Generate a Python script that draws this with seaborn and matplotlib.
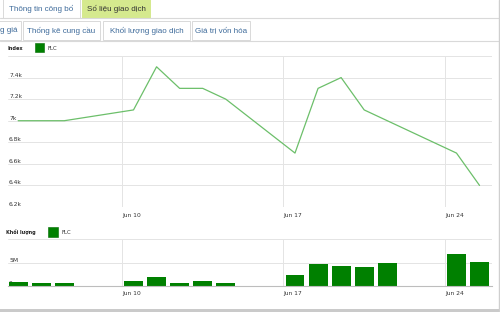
import matplotlib
matplotlib.use('Agg')
import numpy as np
import pandas as pd
import seaborn as sns
import matplotlib.pyplot as plt
import matplotlib.dates as mdates
from matplotlib.patches import Rectangle

# ---------------- data ----------------
dates = ['2013-06-05', '2013-06-06', '2013-06-07', '2013-06-10', '2013-06-11',
         '2013-06-12', '2013-06-13', '2013-06-14', '2013-06-17', '2013-06-18',
         '2013-06-19', '2013-06-20', '2013-06-21', '2013-06-24', '2013-06-25']
price = [7000, 7000, 7000, 7100, 7500, 7300, 7300, 7200, 6700, 7300,
         7400, 7100, 7000, 6700, 6400]
volume_m = [0.75, 0.6, 0.55, 1.0, 1.9, 0.7, 1.0, 0.6, 2.35, 4.7,
            4.2, 3.95, 4.9, 6.9, 5.05]
series_name = 'FLC'
tick_dates = ['2013-06-10', '2013-06-17', '2013-06-24']
tick_labels = ['Jun 10', 'Jun 17', 'Jun 24']
price_ticks = [6200, 6400, 6600, 6800, 7000, 7200, 7400, 7600]
price_tick_labels = ['6.2k', '6.4k', '6.6k', '6.8k', '7k', '7.2k', '7.4k', '']
vol_ticks = [0, 5e6, 10e6]
vol_tick_labels = ['0', '5M', '']
price_title = 'Index'
vol_title = 'Khối lượng'
tabs_row1 = ['Thông tin công bố', 'Số liệu giao dịch']
tabs_row2 = ['g giá', 'Thống kê cung cầu', 'Khối lượng giao dịch', 'Giá trị vốn hóa']

# ---------------- setup ----------------
sns.set_theme(style='white')
plt.rcParams['font.family'] = ['DejaVu Sans']

x = mdates.date2num(pd.to_datetime(dates)) + 0.5
df = pd.DataFrame({'x': x, 'price': price, 'volume': np.array(volume_m) * 1e6})
tick_x = mdates.date2num(pd.to_datetime(tick_dates))
ref = tick_x[0]
xlim = (ref - 4.94, ref + 16.04)

W, H = 500, 312
fig = plt.figure(figsize=(5, 3.12), dpi=100)
fig.patch.set_facecolor('white')

bg = fig.add_axes([0, 0, 1, 1], zorder=0)
bg.set_xlim(0, W)
bg.set_ylim(H, 0)
bg.axis('off')

TAB_FONT = ['Liberation Sans', 'DejaVu Sans']
TAB_FS = 5.8
border = '#d9d9d9'
# row 1 tabs
bg.add_patch(Rectangle((3, -1), 77, 18.5, facecolor='white', edgecolor=border, lw=0.7))
bg.add_patch(Rectangle((82, -1), 68, 18.5, facecolor='#d5e98e', edgecolor='#d5e98e', lw=0.7))
bg.plot([0, W], [17.5, 17.5], color=border, lw=0.8)
bg.text(41.5, 9, tabs_row1[0], ha='center', va='center', fontsize=TAB_FS,
        color='#3d6a9a', family=TAB_FONT)
bg.text(116, 9, tabs_row1[1], ha='center', va='center', fontsize=TAB_FS,
        color='#333333', family=TAB_FONT)
# row 2 tabs
row2_boxes = [(-20, 41), (23, 77), (103, 87), (192, 58)]
for (bx, bw), label in zip(row2_boxes, tabs_row2):
    bg.add_patch(Rectangle((bx, 21), bw, 19, facecolor='white', edgecolor=border, lw=0.7))
    if bx < 0:
        bg.text(0, 31, label, ha='left', va='center', fontsize=TAB_FS,
                color='#3d6a9a', family=TAB_FONT)
    else:
        bg.text(bx + bw / 2, 31, label, ha='center', va='center', fontsize=TAB_FS,
                color='#3d6a9a', family=TAB_FONT)
bg.plot([0, W], [40.5, 40.5], color=border, lw=0.8)
# frame bits
bg.plot([498.5, 498.5], [0, H], color='#cfcfcf', lw=1.0)
bg.add_patch(Rectangle((0, 308.5), W, 4, facecolor='#cacaca', edgecolor='none'))

# legends
bg.text(7, 48, price_title, ha='left', va='center', fontsize=3.6, weight='bold', color='#222222')
bg.add_patch(Rectangle((35, 43), 9, 9, facecolor='#008000', edgecolor='#006a00', lw=0.4))
bg.text(48, 48, series_name, ha='left', va='center', fontsize=3.9, color='#333333')
bg.text(6, 232, vol_title, ha='left', va='center', fontsize=3.5, weight='bold', color='#222222')
bg.add_patch(Rectangle((48, 227), 10, 10, facecolor='#008000', edgecolor='#006a00', lw=0.4))
bg.text(61, 232, series_name, ha='left', va='center', fontsize=3.9, color='#333333')

LABEL_FS = 4.3
grid_c = '#e4e4e4'

# ---------------- price chart ----------------
ax1 = fig.add_axes([8 / W, 1 - 207 / H, 484 / W, 151 / H], zorder=1)
ax1.patch.set_alpha(0)
sns.lineplot(data=df, x='x', y='price', ax=ax1, color='#6cbf6a', linewidth=0.9)
ax1.set_xlim(*xlim)
ax1.set_ylim(price_ticks[0], price_ticks[-1])
ax1.set_xticks(tick_x)
ax1.set_xticklabels(tick_labels, ha='left', fontsize=LABEL_FS, color='#333333')
ax1.set_yticks(price_ticks)
ax1.set_yticklabels(price_tick_labels, ha='left', va='bottom', fontsize=LABEL_FS, color='#333333')
ax1.tick_params(axis='x', length=0, pad=4.3)
ax1.tick_params(axis='y', length=0, pad=-0.8)
ax1.grid(True, color=grid_c, lw=0.7)
ax1.set_axisbelow(True)
for s in ax1.spines.values():
    s.set_visible(False)
ax1.set_xlabel('')
ax1.set_ylabel('')

# ---------------- volume chart ----------------
ax2 = fig.add_axes([8 / W, 1 - 286 / H, 484 / W, 47 / H], zorder=1)
ax2.patch.set_alpha(0)
sns.barplot(data=df, x='x', y='volume', native_scale=True, width=0.82,
            color='#008000', saturation=1, errorbar=None, linewidth=0, ax=ax2)
ax2.set_xlim(*xlim)
ax2.set_ylim(vol_ticks[0], vol_ticks[-1])
ax2.set_xticks(tick_x)
ax2.set_xticklabels(tick_labels, ha='left', fontsize=LABEL_FS, color='#333333')
ax2.set_yticks(vol_ticks)
ax2.set_yticklabels(vol_tick_labels, ha='left', va='bottom', fontsize=LABEL_FS, color='#333333')
ax2.tick_params(axis='x', length=0, pad=3.6)
ax2.tick_params(axis='y', length=0, pad=-0.8)
ax2.grid(True, color=grid_c, lw=0.7)
ax2.set_axisbelow(True)
for k, s in ax2.spines.items():
    s.set_visible(k == 'bottom')
ax2.spines['bottom'].set_color('#bdbdbd')
ax2.spines['bottom'].set_linewidth(0.8)
ax2.set_xlabel('')
ax2.set_ylabel('')

fig.savefig('out.png', dpi=100)
